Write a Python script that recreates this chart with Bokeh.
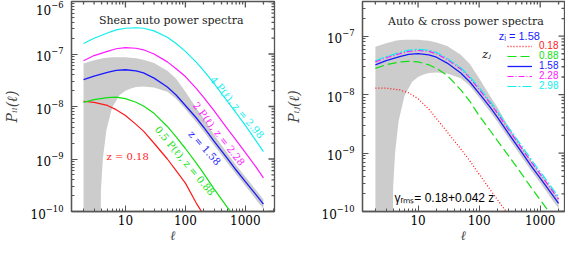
import numpy as np
from bokeh.plotting import figure
from bokeh.layouts import row
from bokeh.models import Label, Legend, LegendItem, Range1d, CustomJSTickFormatter
from bokeh.embed import file_html
from bokeh.resources import INLINE

# ---------------- data (log10 of P) ----------------
ell = [2, 3, 5, 7, 10, 15, 20, 30, 50, 70, 100, 150, 200, 300, 500, 700, 1000, 1500, 2000]

# left panel: auto power spectra
auto_z018 = [-7.90, -7.92, -7.98, -8.06, -8.17, -8.34, -8.47, -8.70, -9.00, -9.22, -9.46, -9.83, -10.06, -10.4]
auto_z088_half = [-7.92, -7.87, -7.83, -7.82, -7.85, -7.92, -7.99, -8.13, -8.38, -8.58, -8.80, -9.07, -9.27,
                  -9.57, -9.92, -10.13, -10.4]
auto_z158 = [-7.49, -7.42, -7.35, -7.31, -7.30, -7.32, -7.36, -7.46, -7.63, -7.78, -7.98, -8.21, -8.39,
             -8.66, -8.99, -9.21, -9.43, -9.68, -9.86]
auto_z228_x2 = [-7.13, -7.03, -6.95, -6.90, -6.88, -6.89, -6.92, -7.00, -7.15, -7.28, -7.43, -7.65, -7.82,
                -8.08, -8.42, -8.64, -8.88, -9.15, -9.36]
auto_z298_x4 = [-6.80, -6.70, -6.60, -6.54, -6.51, -6.50, -6.51, -6.56, -6.68, -6.80, -6.95, -7.15, -7.31,
                -7.56, -7.90, -8.12, -8.36, -8.65, -8.86]

# right panel: cross spectra with z_i = 1.58
cross_z018 = [-7.89, -7.89, -7.92, -7.97, -8.07, -8.25, -8.41, -8.64, -8.93, -9.13, -9.36, -9.62, -9.80,
              -10.05, -10.35]
cross_z088 = [-7.55, -7.49, -7.44, -7.43, -7.44, -7.49, -7.55, -7.67, -7.92, -8.11, -8.36, -8.61, -8.79,
              -9.04, -9.36, -9.58, -9.80, -10.05, -10.22]
cross_z158 = auto_z158
cross_z228 = [-7.44, -7.37, -7.30, -7.26, -7.245, -7.26, -7.30, -7.40, -7.56, -7.71, -7.91, -8.14, -8.32,
              -8.59, -8.92, -9.14, -9.36, -9.61, -9.79]
cross_z298 = [-7.42, -7.35, -7.28, -7.24, -7.225, -7.24, -7.28, -7.38, -7.54, -7.69, -7.88, -8.11, -8.29,
              -8.56, -8.88, -9.10, -9.32, -9.57, -9.75]

# shaded band (sample variance around the z = 1.58 spectrum)
band_ell = [2, 3, 3.85, 3.9, 4.2, 4.8, 6, 8, 10, 12, 15, 20, 30, 50, 70, 100, 150, 200, 300, 500, 700,
            1000, 1500, 2000]
band_upper = [-7.18, -7.12, -7.09, -7.09, -7.08, -7.07, -7.06, -7.06, -7.06, -7.07, -7.08, -7.11, -7.17,
              -7.32, -7.47, -7.72, -8.02, -8.22, -8.54, -8.89, -9.12, -9.34, -9.59, -9.77]
band_lower = [-11.0, -11.0, -11.0, -9.6, -9.0, -8.45, -8.02, -7.78, -7.70, -7.66, -7.63, -7.62, -7.64,
              -7.72, -7.85, -8.05, -8.29, -8.47, -8.74, -9.07, -9.29, -9.51, -9.77, -9.95]

legend_labels = ["0.18", "0.88", "1.58", "2.28", "2.98"]

RED, GREEN, BLUE, MAG, CYAN = "#ff1a1a", "#11e011", "#1a1aff", "#ff1aff", "#11eeee"
BAND = "#cccccc"
AX = "#555555"
SERIF = "DejaVu Serif"


def P(v):
    return 10 ** np.asarray(v, dtype=float)


def L(n):
    return ell[:n]


def log_ticks(lo, hi):
    """major (decades) and minor (2..9 x decade) tick positions inside [lo, hi]"""
    major, minor = [], []
    for e in range(int(np.floor(np.log10(lo))), int(np.ceil(np.log10(hi))) + 1):
        for k in range(1, 10):
            v = k * 10.0 ** e
            if lo <= v <= hi:
                (major if k == 1 else minor).append(v)
    return major, minor


def make_fig(width, bl, br, xr, yr, ylabel, ystandoff):
    p = figure(width=width, height=245, x_axis_type="log", y_axis_type="log",
               x_range=Range1d(*xr), y_range=Range1d(*yr),
               output_backend="svg", toolbar_location=None,
               min_border_left=bl, min_border_right=br, min_border_top=1, min_border_bottom=27)
    p.grid.visible = False
    p.outline_line_color = AX
    p.outline_line_width = 1.3
    p.background_fill_color = "white"
    p.border_fill_color = "white"
    for ax in p.below + p.left:
        ax.axis_line_color = AX
        ax.axis_line_width = 1.3
        ax.major_tick_line_color = AX
        ax.minor_tick_line_color = AX
        ax.major_tick_in = 6
        ax.major_tick_out = 0
        ax.minor_tick_in = 3
        ax.minor_tick_out = 0
        ax.ticker.num_minor_ticks = 10
        ax.major_label_text_font = SERIF
        ax.major_label_text_font_size = "12px"
        ax.major_label_text_color = "black"
    xa = p.below[0]
    xa.formatter = CustomJSTickFormatter(code="return String(Math.round(tick))")
    xa.major_label_standoff = 3
    xa.major_label_text_line_height = 0.8
    xa.axis_label = "ℓ"
    xa.axis_label_text_font = SERIF
    xa.axis_label_text_font_style = "italic"
    xa.axis_label_text_font_size = "13px"
    xa.axis_label_text_line_height = 0.8
    xa.axis_label_standoff = 0
    ya = p.left[0]
    ya.major_label_standoff = 8
    ya.axis_label = ylabel
    ya.axis_label_text_font = SERIF
    ya.axis_label_text_font_style = "italic"
    ya.axis_label_text_font_size = "14px"
    ya.axis_label_standoff = ystandoff
    # mirrored inward ticks on the top and right edges (half of each dash is clipped by the frame)
    xmaj, xmin = log_ticks(*xr)
    ymaj, ymin = log_ticks(*yr)
    for xs, sz in ((xmaj, 12), (xmin, 6)):
        p.scatter(x=xs, y=[yr[1]] * len(xs), marker="dash", angle=np.pi / 2, size=sz,
                  line_color=AX, line_width=1.3)
    for ys, sz in ((ymaj, 12), (ymin, 6)):
        p.scatter(x=[xr[1]] * len(ys), y=ys, marker="dash", size=sz, line_color=AX, line_width=1.3)
    return p


# ---------------- left panel ----------------
p1 = make_fig(282, 55, 8, (1.26, 3060), (1e-10, 1e-6), "Pᵢᵢ(ℓ)", 8)
p1.varea(x=band_ell, y1=P(band_lower), y2=P(band_upper), fill_color=BAND, fill_alpha=1, level="underlay")
p1.line(L(len(auto_z018)), P(auto_z018), color=RED, line_width=1.2)
p1.line(L(len(auto_z088_half)), P(auto_z088_half), color=GREEN, line_width=1.2)
p1.line(ell, P(auto_z158), color=BLUE, line_width=1.3)
p1.line(ell, P(auto_z228_x2), color=MAG, line_width=1.2)
p1.line(ell, P(auto_z298_x4), color=CYAN, line_width=1.2)

p1.add_layout(Label(x=58, y=4.3e-7, text="Shear auto power spectra", text_align="center",
                    text_baseline="middle", text_font=SERIF, text_font_size="11px", text_color="#222222"))
for txt, x, y, ang, col in [
    ("4 P(ℓ), z = 2.98", 730, 9.6e-9, -50, CYAN),
    ("2 P(ℓ), z = 2.28", 360, 3.0e-9, -52, MAG),
    ("z = 1.58", 209, 1.63e-9, -48, BLUE),
    ("0.5 P(ℓ), z = 0.88", 98, 9.2e-10, -50, GREEN),
    ("z = 0.18", 10.9, 1.11e-9, 0, RED),
]:
    p1.add_layout(Label(x=x, y=y, text=txt, angle=ang, angle_units="deg", text_align="center",
                        text_baseline="middle", text_font=SERIF, text_font_size="10px", text_color=col))

# ---------------- right panel ----------------
p2 = make_fig(283, 68, 1, (1.23, 2500), (1e-10, 3.92e-7), "Pᵢⱼ(ℓ)", 17)
p2.varea(x=band_ell, y1=P(band_lower), y2=P(band_upper), fill_color=BAND, fill_alpha=1, level="underlay")
r_red = p2.line(L(len(cross_z018)), P(cross_z018), color=RED, line_width=1.3, line_dash="1 2")
r_green = p2.line(ell, P(cross_z088), color=GREEN, line_width=1.2, line_dash="9 4")
r_blue = p2.line(ell, P(cross_z158), color=BLUE, line_width=1.3)
r_mag = p2.line(ell, P(cross_z228), color=MAG, line_width=1.2, line_dash="6 2 1 2")
r_cyan = p2.line(ell, P(cross_z298), color=CYAN, line_width=1.2, line_dash="9 2 2 2")

for i, (r, col) in enumerate(zip([r_red, r_green, r_blue, r_mag, r_cyan], [RED, GREEN, BLUE, MAG, CYAN])):
    lg = Legend(items=[LegendItem(label=legend_labels[i], renderers=[r])],
                location=(145, 160 - 10 * i), padding=0, margin=0, spacing=0,
                glyph_width=25, glyph_height=10, label_height=10, label_standoff=7,
                label_text_font="Liberation Sans", label_text_font_size="10px", label_text_color=col,
                background_fill_alpha=0, border_line_alpha=0)
    p2.add_layout(lg)

p2.add_layout(Label(x=60.7, y=1.77e-7, text="Auto & cross power spectra", text_align="center",
                    text_baseline="middle", text_font=SERIF, text_font_size="11px", text_color="#222222"))
p2.add_layout(Label(x=209, y=1.0e-7, text="zᵢ = 1.58", text_align="left", text_baseline="middle",
                    text_font="Liberation Sans", text_font_size="11px", text_color=BLUE))
p2.add_layout(Label(x=132, y=4.87e-8, text="zⱼ", text_align="center", text_baseline="middle",
                    text_font=SERIF, text_font_style="italic", text_font_size="11px", text_color="black"))
p2.add_layout(Label(x=4.1, y=1.7e-10, text="γᵣₘₛ= 0.18+0.042 z", text_align="left",
                    text_baseline="middle", text_font="Liberation Sans", text_font_size="12px",
                    text_color="black"))

layout = row(p1, p2, spacing=0)
open("out.html", "w").write(file_html(layout, INLINE))
